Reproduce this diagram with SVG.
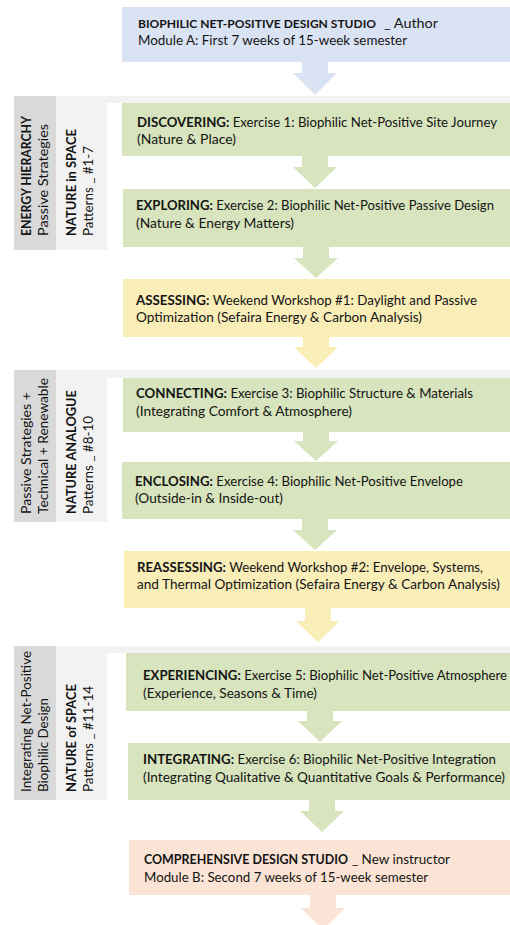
<svg xmlns="http://www.w3.org/2000/svg" width="510" height="925" viewBox="0 0 510 925">
<style>
.t{font-family:Lato,"Open Sans","Liberation Sans",sans-serif;font-size:13px;fill:#141414}
.b{font-weight:700}
.blue{fill:#dae3f3}
.green{fill:#d7e4bd}
.yellow{fill:#f9edb8}
.peach{fill:#fbe4d5}
.dk{fill:#d9d9d9}
.lt{fill:#f2f2f2}
</style>
<rect width="510" height="925" fill="#ffffff"/>
<g id="band1">
<rect class="dk" x="14" y="96" width="42" height="154"/>
<rect class="lt" x="56" y="96" width="51" height="154"/>
<rect class="lt" x="56" y="96" width="454" height="7"/>
<text class="t b" transform="translate(31,236) rotate(-90)" textLength="120" lengthAdjust="spacingAndGlyphs">ENERGY HIERARCHY</text>
<text class="t" transform="translate(48,236) rotate(-90)" textLength="112" lengthAdjust="spacingAndGlyphs">Passive Strategies</text>
<text class="t b" transform="translate(76,236) rotate(-90)" textLength="107" lengthAdjust="spacingAndGlyphs">NATURE in SPACE</text>
<text class="t" transform="translate(93,236) rotate(-90)" textLength="90" lengthAdjust="spacingAndGlyphs">Patterns _ #1-7</text>
</g>
<g id="band2">
<rect class="dk" x="14" y="370" width="42" height="152"/>
<rect class="lt" x="56" y="370" width="51" height="152"/>
<rect class="lt" x="56" y="370" width="454" height="8"/>
<text class="t" transform="translate(31,514) rotate(-90)" textLength="122" lengthAdjust="spacingAndGlyphs">Passive Strategies +</text>
<text class="t" transform="translate(48,514) rotate(-90)" textLength="136" lengthAdjust="spacingAndGlyphs">Technical + Renewable</text>
<text class="t b" transform="translate(76,514) rotate(-90)" textLength="124" lengthAdjust="spacingAndGlyphs">NATURE ANALOGUE</text>
<text class="t" transform="translate(93,514) rotate(-90)" textLength="98" lengthAdjust="spacingAndGlyphs">Patterns _ #8-10</text>
</g>
<g id="band3">
<rect class="dk" x="14" y="646" width="42" height="154"/>
<rect class="lt" x="56" y="646" width="51" height="154"/>
<rect class="lt" x="56" y="646" width="454" height="7"/>
<text class="t" transform="translate(31,792) rotate(-90)" textLength="141" lengthAdjust="spacingAndGlyphs">Integrating Net-Positive</text>
<text class="t" transform="translate(48,792) rotate(-90)" textLength="94" lengthAdjust="spacingAndGlyphs">Biophilic Design</text>
<text class="t b" transform="translate(76,792) rotate(-90)" textLength="108" lengthAdjust="spacingAndGlyphs">NATURE of SPACE</text>
<text class="t" transform="translate(93,792) rotate(-90)" textLength="106" lengthAdjust="spacingAndGlyphs">Patterns _ #11-14</text>
</g>
<g id="connectors">
<polygon class="blue" points="302,62 328,62 328,73 337,73 315,95 293,73 302,73"/>
<polygon class="green" points="302,156 328,156 328,167 337,167 315,188 293,167 302,167"/>
<polygon class="green" points="303,247 329,247 329,258 338,258 316,278 294,258 303,258"/>
<polygon class="yellow" points="303,337 329,337 329,347 338,347 316,368 294,347 303,347"/>
<polygon class="green" points="303,432 329,432 329,441 338,441 316,461 294,441 303,441"/>
<polygon class="green" points="302,519 328,519 328,530 337,530 315,550 293,530 302,530"/>
<polygon class="yellow" points="305,608 331,608 331,621 340,621 318,642 296,621 305,621"/>
<polygon class="green" points="307,711 333,711 333,721 342,721 320,742 298,721 307,721"/>
<polygon class="green" points="309,800 335,800 335,811 344,811 322,832 300,811 309,811"/>
<polygon class="peach" points="310,895 336,895 336,908 345,908 323,930 301,908 310,908"/>
</g>
<g id="header">
<rect class="blue" x="122" y="7" width="388" height="55"/>
<text class="t b" x="138" y="28" style="font-size:12.2px" textLength="238" lengthAdjust="spacingAndGlyphs">BIOPHILIC NET-POSITIVE DESIGN STUDIO</text>
<text class="t" x="384" y="28" textLength="54" lengthAdjust="spacingAndGlyphs">_ Author</text>
<text class="t" x="138" y="45" textLength="269" lengthAdjust="spacingAndGlyphs">Module A: First 7 weeks of 15-week semester</text>
</g>
<g id="ex1">
<rect class="green" x="122" y="103" width="388" height="53"/>
<text class="t" x="137" y="127" textLength="360" lengthAdjust="spacingAndGlyphs"><tspan class="b">DISCOVERING:</tspan> Exercise 1: Biophilic Net-Positive Site Journey</text>
<text class="t" x="137" y="144" textLength="99" lengthAdjust="spacingAndGlyphs">(Nature &amp; Place)</text>
</g>
<g id="ex2">
<rect class="green" x="123" y="189" width="387" height="58"/>
<text class="t" x="136" y="210" textLength="358" lengthAdjust="spacingAndGlyphs"><tspan class="b">EXPLORING:</tspan> Exercise 2: Biophilic Net-Positive Passive Design</text>
<text class="t" x="136" y="228" textLength="158" lengthAdjust="spacingAndGlyphs">(Nature &amp; Energy Matters)</text>
</g>
<g id="ws1">
<rect class="yellow" x="123" y="279" width="387" height="58"/>
<text class="t" x="136" y="305" textLength="341" lengthAdjust="spacingAndGlyphs"><tspan class="b">ASSESSING:</tspan> Weekend Workshop #1: Daylight and Passive</text>
<text class="t" x="136" y="322" textLength="286" lengthAdjust="spacingAndGlyphs">Optimization (Sefaira Energy &amp; Carbon Analysis)</text>
</g>
<g id="ex3">
<rect class="green" x="123" y="378" width="387" height="54"/>
<text class="t" x="136" y="398" textLength="337" lengthAdjust="spacingAndGlyphs"><tspan class="b">CONNECTING:</tspan> Exercise 3: Biophilic Structure &amp; Materials</text>
<text class="t" x="136" y="416" textLength="216" lengthAdjust="spacingAndGlyphs">(Integrating Comfort &amp; Atmosphere)</text>
</g>
<g id="ex4">
<rect class="green" x="122" y="462" width="388" height="57"/>
<text class="t" x="135" y="486" textLength="328" lengthAdjust="spacingAndGlyphs"><tspan class="b">ENCLOSING:</tspan> Exercise 4: Biophilic Net-Positive Envelope</text>
<text class="t" x="135" y="503" textLength="148" lengthAdjust="spacingAndGlyphs">(Outside-in &amp; Inside-out)</text>
</g>
<g id="ws2">
<rect class="yellow" x="124" y="551" width="386" height="57"/>
<text class="t" x="137" y="572" textLength="346" lengthAdjust="spacingAndGlyphs"><tspan class="b">REASSESSING:</tspan> Weekend Workshop #2: Envelope, Systems,</text>
<text class="t" x="137" y="589" textLength="363" lengthAdjust="spacingAndGlyphs">and Thermal Optimization (Sefaira Energy &amp; Carbon Analysis)</text>
</g>
<g id="ex5">
<rect class="green" x="126" y="653" width="384" height="58"/>
<text class="t" x="143" y="680" textLength="364" lengthAdjust="spacingAndGlyphs"><tspan class="b">EXPERIENCING:</tspan> Exercise 5: Biophilic Net-Positive Atmosphere</text>
<text class="t" x="143" y="698" textLength="174" lengthAdjust="spacingAndGlyphs">(Experience, Seasons &amp; Time)</text>
</g>
<g id="ex6">
<rect class="green" x="128" y="743" width="382" height="57"/>
<text class="t" x="143" y="764" textLength="353" lengthAdjust="spacingAndGlyphs"><tspan class="b">INTEGRATING:</tspan> Exercise 6: Biophilic Net-Positive Integration</text>
<text class="t" x="143" y="782" textLength="362" lengthAdjust="spacingAndGlyphs">(Integrating Qualitative &amp; Quantitative Goals &amp; Performance)</text>
</g>
<g id="moduleB">
<rect class="peach" x="129" y="840" width="381" height="55"/>
<text class="t b" x="144" y="864" textLength="204" lengthAdjust="spacingAndGlyphs">COMPREHENSIVE DESIGN STUDIO</text>
<text class="t" x="352" y="864" textLength="98" lengthAdjust="spacingAndGlyphs">_ New instructor</text>
<text class="t" x="144" y="882" textLength="284" lengthAdjust="spacingAndGlyphs">Module B: Second 7 weeks of 15-week semester</text>
</g>
</svg>
